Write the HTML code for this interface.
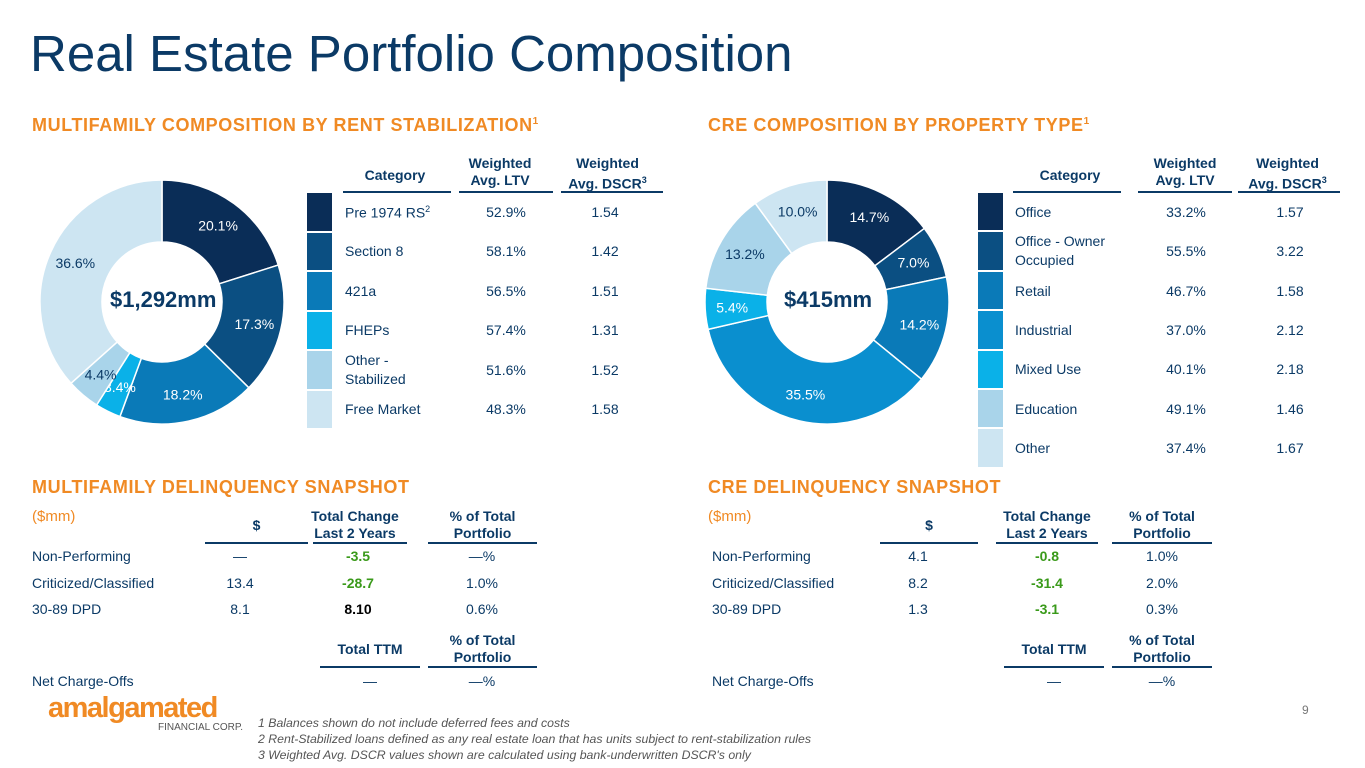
<!DOCTYPE html>
<html><head><meta charset="utf-8"><style>
body{margin:0;width:1365px;height:768px;position:relative;background:#fff;font-family:"Liberation Sans",Arial,sans-serif;overflow:hidden}
.a{position:absolute;white-space:nowrap}
.t{color:#0b3a66}
.h{color:#f08a24;font-weight:bold;font-size:18px;letter-spacing:0.6px}
.hd{font-weight:bold;font-size:14px;color:#0b3a66;text-align:center;line-height:17px}
.ul{position:absolute;height:2px;background:#0b3a66}
.c{font-size:14px;color:#0b3a66}
.sw{position:absolute;width:25px}
.g{color:#3a9a1a;font-weight:bold}
.ctr{text-align:center;transform:translateX(-50%)}
</style></head><body>
<div class="a t" style="left:30px;top:24px;font-size:51px">Real Estate Portfolio Composition</div>
<div class="a h" style="left:32px;top:115px">MULTIFAMILY COMPOSITION BY RENT STABILIZATION<sup style="font-size:10px">1</sup></div>
<div class="a h" style="left:708px;top:115px">CRE COMPOSITION BY PROPERTY TYPE<sup style="font-size:10px">1</sup></div>

<svg class="a" style="left:0;top:0" width="1365" height="768" id="svg"></svg>

<div class="a" style="left:110px;top:287px;font-size:22px;font-weight:bold;color:#0b3a66">$1,292mm</div>
<div class="a" style="left:784px;top:287px;font-size:22px;font-weight:bold;color:#0b3a66">$415mm</div>

<div class="a hd" style="left:340px;top:167px;width:110px">Category</div>
<div class="a hd" style="left:450px;top:155px;width:100px">Weighted<br>Avg. LTV</div>
<div class="a hd" style="left:555px;top:155px;width:105px">Weighted<br>Avg. DSCR<sup style="font-size:9px">3</sup></div>
<div class="ul" style="left:343px;top:191px;width:108px"></div>
<div class="ul" style="left:459px;top:191px;width:94px"></div>
<div class="ul" style="left:561px;top:191px;width:102px"></div>
<div id="mft"></div>

<div class="a hd" style="left:1015px;top:167px;width:110px">Category</div>
<div class="a hd" style="left:1135px;top:155px;width:100px">Weighted<br>Avg. LTV</div>
<div class="a hd" style="left:1235px;top:155px;width:105px">Weighted<br>Avg. DSCR<sup style="font-size:9px">3</sup></div>
<div class="ul" style="left:1013px;top:191px;width:108px"></div>
<div class="ul" style="left:1138px;top:191px;width:94px"></div>
<div class="ul" style="left:1238px;top:191px;width:102px"></div>
<div id="cret"></div>

<div class="a h" style="left:32px;top:477px">MULTIFAMILY DELINQUENCY SNAPSHOT</div>
<div class="a h" style="left:708px;top:477px">CRE DELINQUENCY SNAPSHOT</div>
<div class="a" style="left:32px;top:508px;font-size:15px;color:#f08a24">($mm)</div>
<div class="a" style="left:708px;top:508px;font-size:15px;color:#f08a24">($mm)</div>

<div class="a hd" style="left:205px;top:517px;width:103px">$</div>
<div class="a hd" style="left:305px;top:508px;width:100px">Total Change<br>Last 2 Years</div>
<div class="a hd" style="left:428px;top:508px;width:109px">% of Total<br>Portfolio</div>
<div class="ul" style="left:205px;top:542px;width:103px"></div>
<div class="ul" style="left:313px;top:542px;width:94px"></div>
<div class="ul" style="left:428px;top:542px;width:109px"></div>

<div class="a hd" style="left:880px;top:517px;width:98px">$</div>
<div class="a hd" style="left:996px;top:508px;width:102px">Total Change<br>Last 2 Years</div>
<div class="a hd" style="left:1112px;top:508px;width:100px">% of Total<br>Portfolio</div>
<div class="ul" style="left:880px;top:542px;width:98px"></div>
<div class="ul" style="left:996px;top:542px;width:102px"></div>
<div class="ul" style="left:1112px;top:542px;width:100px"></div>

<div id="del"></div>

<div class="a hd" style="left:320px;top:641px;width:100px">Total TTM</div>
<div class="a hd" style="left:428px;top:632px;width:109px">% of Total<br>Portfolio</div>
<div class="ul" style="left:320px;top:666px;width:100px"></div>
<div class="ul" style="left:428px;top:666px;width:109px"></div>
<div class="a hd" style="left:1004px;top:641px;width:100px">Total TTM</div>
<div class="a hd" style="left:1112px;top:632px;width:100px">% of Total<br>Portfolio</div>
<div class="ul" style="left:1004px;top:666px;width:100px"></div>
<div class="ul" style="left:1112px;top:666px;width:100px"></div>
<div class="a c" style="left:32px;top:673px">Net Charge-Offs</div>
<div class="a c ctr" style="left:370px;top:673px">—</div>
<div class="a c ctr" style="left:482px;top:673px">—%</div>
<div class="a c" style="left:712px;top:673px">Net Charge-Offs</div>
<div class="a c ctr" style="left:1054px;top:673px">—</div>
<div class="a c ctr" style="left:1162px;top:673px">—%</div>

<div class="a" style="left:48px;top:692px;color:#f08a24;font-weight:bold;font-size:29px;letter-spacing:-1.5px">amalgamated</div>
<div class="a" style="left:158px;top:722px;color:#555;font-size:10px">FINANCIAL CORP.</div>
<div class="a" style="left:258px;top:715px;color:#555;font-size:12.3px;font-style:italic;line-height:16px"> 1 Balances shown do not include deferred fees and costs<br>2 Rent-Stabilized loans defined as any real estate loan that has units subject to rent-stabilization rules<br>3 Weighted Avg. DSCR values shown are calculated using bank-underwritten DSCR's only</div>
<div class="a" style="left:1302px;top:703px;color:#777;font-size:12px">9</div>

<script>
const mfCats=["Pre 1974 RS","Section 8","421a","FHEPs","Other - Stabilized","Free Market"];
const mfShare=[20.1,17.3,18.2,3.4,4.4,36.6];
const mfLtv=["52.9%","58.1%","56.5%","57.4%","51.6%","48.3%"];
const mfDscr=["1.54","1.42","1.51","1.31","1.52","1.58"];
const mfColors=["#0a2d57","#0b4f82","#0a7ab8","#0ab1e8","#a9d4ea","#cde5f2"];
const creCats=["Office","Office - Owner Occupied","Retail","Industrial","Mixed Use","Education","Other"];
const creShare=[14.7,7.0,14.2,35.5,5.4,13.2,10.0];
const creLtv=["33.2%","55.5%","46.7%","37.0%","40.1%","49.1%","37.4%"];
const creDscr=["1.57","3.22","1.58","2.12","2.18","1.46","1.67"];
const creColors=["#0a2d57","#0b4f82","#0a7ab8","#0a8fcf","#0ab1e8","#a9d4ea","#cde5f2"];
const svg=document.getElementById('svg');const NS="http://www.w3.org/2000/svg";
function donut(cx,cy,R,r,vals,cols,name){
  let a=0;const tot=vals.reduce((s,v)=>s+v,0);
  vals.forEach((v,i)=>{
    const a0=a/tot*2*Math.PI,a1=(a+v)/tot*2*Math.PI;a+=v;
    const p=(rr,t)=>[cx+rr*Math.sin(t),cy-rr*Math.cos(t)];
    const [x0,y0]=p(R,a0),[x1,y1]=p(R,a1),[x2,y2]=p(r,a1),[x3,y3]=p(r,a0);
    const lg=(a1-a0)>Math.PI?1:0;
    const path=document.createElementNS(NS,'path');
    path.setAttribute('d',`M${x0},${y0}A${R},${R} 0 ${lg} 1 ${x1},${y1}L${x2},${y2}A${r},${r} 0 ${lg} 0 ${x3},${y3}Z`);
    path.setAttribute('fill',cols[i]);path.setAttribute('stroke','#fff');path.setAttribute('stroke-width','1.5');
    
    
    svg.appendChild(path);
    const m=(a0+a1)/2,[lx,ly]=p((R+r)/2+4,m);
    const tx=document.createElementNS(NS,'text');
    tx.setAttribute('x',lx);tx.setAttribute('y',ly+5);tx.setAttribute('text-anchor','middle');
    tx.setAttribute('font-size','14');tx.setAttribute('font-family','Liberation Sans, sans-serif');
    tx.setAttribute('fill',i>=cols.length-2?'#0b3a66':'#fff');
    tx.textContent=v.toFixed(1)+'%';
    
    
    svg.appendChild(tx);
  });
}
donut(162,302,122,60,mfShare,mfColors,'mf');
donut(827,302,122,60,creShare,creColors,'cre');
function table(host,x0,catX,ltvX,dscrX,y0,h,cats,ltv,dscr,cols,name,sup){
  const el=document.getElementById(host);
  cats.forEach((c,i)=>{
    const y=y0+i*h;
    let s=document.createElement('div');s.className='sw';s.style.left=x0+'px';s.style.top=y+'px';s.style.height=(h-2)+'px';s.style.background=cols[i];
    
    
    el.appendChild(s);
    let d=document.createElement('div');d.className='a c';d.style.left=catX+'px';d.style.top=(y+h/2-9)+'px';
    d.innerHTML=c+(i===0&&sup?'<sup style="font-size:9px">2</sup>':'');
    if(c.includes(' - ')){d.style.lineHeight='19px';d.style.top=(y+h/2-20)+'px';
      const parts=c.split(' - ');const w=parts[1].split(' ');
      d.innerHTML=w.length>1?parts[0]+' - '+w[0]+'<br>'+w.slice(1).join(' '):parts[0]+' -<br>'+parts[1];}
    
    
    el.appendChild(d);
    [[ltvX,ltv[i]],[dscrX,dscr[i]]].forEach(([x,t])=>{let v=document.createElement('div');v.className='a c ctr';v.style.left=x+'px';v.style.top=(y+h/2-9)+'px';v.textContent=t;
      
      
      el.appendChild(v);});
  });
}
table('mft',307,345,506,605,193,39.5,mfCats,mfLtv,mfDscr,mfColors,'mf-row',true);
table('cret',978,1015,1186,1290,193,39.4,creCats,creLtv,creDscr,creColors,'cre-row',false);
const delLabels=["Non-Performing","Criticized/Classified","30-89 DPD"];
const mfAmt=["—","13.4","8.1"],mfChg=["-3.5","-28.7","8.10"],mfPct=["—%","1.0%","0.6%"];
const creAmt=["4.1","8.2","1.3"],creChg=["-0.8","-31.4","-3.1"],crePct=["1.0%","2.0%","0.3%"];
const del=document.getElementById('del');
function cell(x,y,t,cls,center){const d=document.createElement('div');d.className='a c '+(center?'ctr ':'')+cls;d.style.left=x+'px';d.style.top=y+'px';d.textContent=t;
  
  
  del.appendChild(d);}
delLabels.forEach((l,i)=>{const y=548+i*26.5;
  cell(32,y,l,'',false);cell(240,y,mfAmt[i],'',true);cell(358,y,mfChg[i],mfChg[i].startsWith('-')?'g':'',true);
  if(!mfChg[i].startsWith('-'))del.lastChild.style.fontWeight='bold',del.lastChild.style.color='#000';
  cell(482,y,mfPct[i],'',true);
  cell(712,y,l,'',false);cell(918,y,creAmt[i],'',true);cell(1047,y,creChg[i],'g',true);cell(1162,y,crePct[i],'',true);
});
</script>
</body></html>
